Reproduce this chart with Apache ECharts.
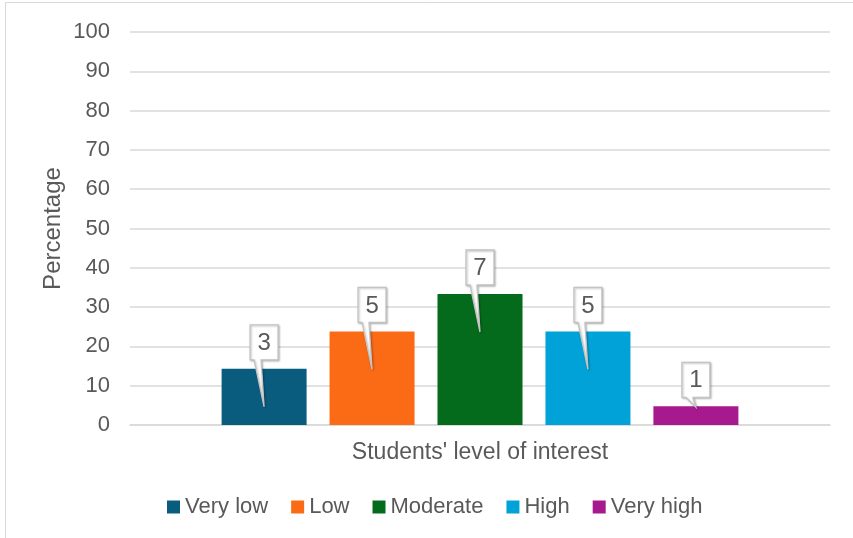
<!DOCTYPE html>
<html>
<head>
<meta charset="utf-8">
<script src="https://cdn.jsdelivr.net/npm/echarts@6/dist/echarts.min.js"></script>
<style>
  html, body { margin: 0; padding: 0; background: #fff; }
  #chart { width: 853px; height: 538px; }
</style>
</head>
<body>
<div id="chart"></div>
<script>
// Survey results: number of students per interest level
const category = "Students' level of interest";
const levels = ['Very low', 'Low', 'Moderate', 'High', 'Very high'];
const counts = [3, 5, 7, 5, 1];
const colors = ['#0a5c7f', '#fb6a15', '#056b1c', '#00a2d8', '#a7198f'];
const yTicks = { min: 0, max: 100, interval: 10 };

const total = counts.reduce((a, b) => a + b, 0);
const percents = counts.map(c => c / total * 100);

const BAR_W = 85;
const BAR_GAP = 0.27;               // fraction of bar width
const STEP = BAR_W * (1 + BAR_GAP);
const TEXT = '#595959';
const FONT = 'Liberation Sans, Arial, sans-serif';

const barSeries = levels.map((name, i) => ({
  name: name,
  type: 'bar',
  data: [percents[i]],
  barWidth: BAR_W,
  barGap: (BAR_GAP * 100) + '%',
  itemStyle: { color: colors[i] },
  emphasis: { disabled: true }
}));

// Callout boxes with a pointer that reaches into each bar
const calloutSeries = {
  type: 'custom',
  name: 'callouts',
  z: 10,
  silent: true,
  data: levels.map((n, i) => [0, percents[i], counts[i], i]),
  renderItem: function (params, api) {
    const idx = api.value(3);
    const topPt = api.coord([0, api.value(1)]);
    const basePt = api.coord([0, 0]);
    const cx = topPt[0] + (idx - (levels.length - 1) / 2) * STEP;
    const barTop = topPt[1];
    const boxW = 28, boxH = 35;
    const boxBottom = barTop - 9;
    const boxTop = boxBottom - boxH;
    const tipY = barTop + Math.max(1, Math.min(38, basePt[1] - barTop - 18));
    const l = cx - boxW / 2, r = cx + boxW / 2;
    const pts = [
      [l, boxTop], [r, boxTop], [r, boxBottom],
      [cx - 3, boxBottom], [cx, tipY], [cx - 10, boxBottom],
      [l, boxBottom]
    ];
    return {
      type: 'group',
      children: [
        {
          type: 'polygon',
          shape: { points: pts },
          style: {
            fill: '#ffffff', stroke: '#c4c4c4', lineWidth: 1.3,
            shadowBlur: 2, shadowColor: 'rgba(0,0,0,0.25)', shadowOffsetX: 1, shadowOffsetY: 1
          }
        },
        {
          type: 'text',
          style: {
            text: String(api.value(2)),
            x: cx, y: (boxTop + boxBottom) / 2 + 1,
            align: 'center', verticalAlign: 'middle',
            fill: TEXT, fontSize: 24, fontFamily: FONT
          }
        }
      ]
    };
  }
};

const chart = echarts.init(document.getElementById('chart'), null, { renderer: 'canvas' });
chart.setOption({
  animation: false,
  backgroundColor: '#ffffff',
  textStyle: { fontFamily: FONT, color: TEXT },
  graphic: [{
    type: 'rect',
    shape: { x: 5.5, y: 2.5, width: 900, height: 600 },
    style: { fill: 'none', stroke: '#d9d9d9', lineWidth: 1 },
    silent: true
  }],
  grid: { left: 130, right: 23, top: 32, bottom: 113 },
  legend: {
    data: levels,
    left: 162,
    top: 491,
    icon: 'rect',
    itemWidth: 13,
    itemHeight: 13,
    itemGap: 23,
    selectedMode: false,
    textStyle: { fontSize: 22, color: TEXT, fontFamily: FONT }
  },
  xAxis: {
    type: 'category',
    data: [category],
    axisLine: { show: true, lineStyle: { color: '#d9d9d9', width: 1.5 } },
    axisTick: { show: false },
    axisLabel: { fontSize: 23, color: TEXT, margin: 16, fontFamily: FONT }
  },
  yAxis: {
    type: 'value',
    min: yTicks.min,
    max: yTicks.max,
    interval: yTicks.interval,
    name: 'Percentage',
    nameLocation: 'middle',
    nameGap: 65,
    nameMoveOverlap: false,
    nameTextStyle: { fontSize: 24, color: TEXT, fontFamily: FONT },
    axisLine: { show: false },
    axisTick: { show: false },
    axisLabel: { fontSize: 22, color: TEXT, margin: 20, fontFamily: FONT },
    splitLine: { lineStyle: { color: '#d9d9d9', width: 1.5 } }
  },
  series: barSeries.concat([calloutSeries])
});
</script>
</body>
</html>
